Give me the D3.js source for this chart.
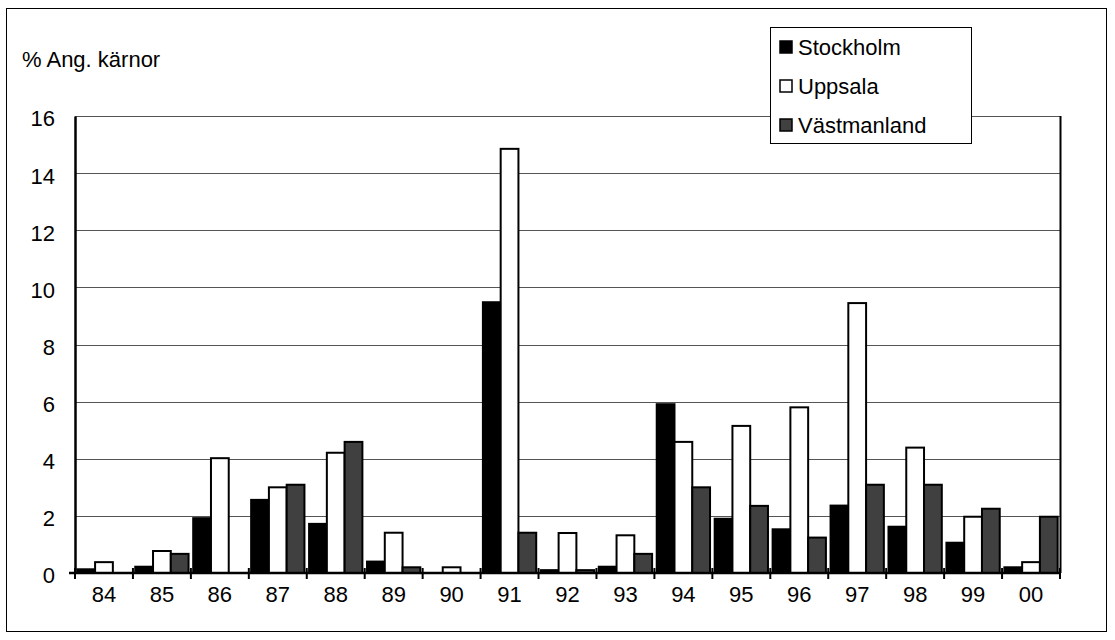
<!DOCTYPE html>
<html>
<head>
<meta charset="utf-8">
<script src="https://cdn.jsdelivr.net/npm/d3@7"></script>
<style>
  body { margin: 0; background: #fff; }
  text { font-family: "Liberation Sans", Arial, sans-serif; fill: #000; }
</style>
</head>
<body>
<div id="chart"></div>
<script>
(function () {
    'use strict';

    // years along the bottom
    var years = ['84', '85', '86', '87', '88', '89', '90', '91', '92', '93', '94', '95', '96', '97', '98', '99', '00'];

    var seriesNames = ['Stockholm', 'Uppsala', 'Västmanland'];
    var seriesColors = ['#000000', '#ffffff', '#404040'];

    var stockholm   = [0.13, 0.22, 1.92, 2.56, 1.72, 0.4, 0, 9.48, 0.1, 0.22, 5.91, 1.9, 1.53, 2.36, 1.62, 1.06, 0.2];
    var uppsala     = [0.38, 0.77, 4.02, 3.0, 4.21, 1.41, 0.2, 14.85, 1.4, 1.32, 4.59, 5.15, 5.8, 9.45, 4.39, 1.97, 0.38];
    var vastmanland = [0, 0.67, 0, 3.09, 4.59, 0.2, 0, 1.41, 0.1, 0.67, 3.0, 2.35, 1.24, 3.09, 3.09, 2.25, 1.97];

    var yTicks = [0, 2, 4, 6, 8, 10, 12, 14, 16];

    var w = 1115,
        h = 640;

    var left = 75, right = 1060, top = 116, bottom = 573;
    var fontSize = '22px';

    var svg = d3.select('#chart')
        .append('svg')
        .attr('width', w)
        .attr('height', h);

    // outer frame
    svg.append('rect')
        .attr('x', 6.5).attr('y', 8.5)
        .attr('width', 1100).attr('height', 623)
        .attr('fill', 'none')
        .attr('stroke', '#000')
        .attr('stroke-width', 1);

    var x0 = d3.scaleBand().domain(years).range([left, right]).paddingInner(0.08).paddingOuter(0.04);
    var x1 = d3.scaleBand().domain(seriesNames).range([0, x0.bandwidth()]);
    var y = d3.scaleLinear().domain([0, 16]).range([bottom, top]);
    var color = d3.scaleOrdinal().domain(seriesNames).range(seriesColors);

    var data = years.map(function (yr, i) {
        return {
            year: yr,
            values: [
                { name: 'Stockholm', value: stockholm[i] },
                { name: 'Uppsala', value: uppsala[i] },
                { name: 'Västmanland', value: vastmanland[i] }
            ]
        };
    });

    // gridlines
    svg.append('g')
        .attr('class', 'grid')
        .selectAll('line')
        .data(yTicks.filter(function (d) { return d > 0; }))
        .enter().append('line')
        .attr('x1', left).attr('x2', right)
        .attr('y1', function (d) { return Math.round(y(d)) + 0.5; })
        .attr('y2', function (d) { return Math.round(y(d)) + 0.5; })
        .attr('stroke', '#555')
        .attr('stroke-width', 1);

    // right border of the plot
    svg.append('line')
        .attr('x1', right + 0.5).attr('x2', right + 0.5)
        .attr('y1', top).attr('y2', bottom)
        .attr('stroke', '#000').attr('stroke-width', 2);

    // bars
    var group = svg.selectAll('.year')
        .data(data)
        .enter().append('g')
        .attr('class', 'year')
        .attr('transform', function (d) { return 'translate(' + x0(d.year) + ',0)'; });

    group.selectAll('rect')
        .data(function (d) { return d.values.filter(function (v) { return v.value > 0; }); })
        .enter().append('rect')
        .attr('x', function (d) { return x1(d.name); })
        .attr('y', function (d) { return y(d.value); })
        .attr('width', x1.bandwidth())
        .attr('height', function (d) { return bottom - y(d.value); })
        .attr('fill', function (d) { return color(d.name); })
        .attr('stroke', '#000')
        .attr('stroke-width', 2);

    // y axis
    var yAxis = svg.append('g')
        .attr('transform', 'translate(' + left + ',0)')
        .call(d3.axisLeft(y).tickValues(yTicks).tickSize(0).tickPadding(20));
    yAxis.select('.domain').attr('stroke-width', 2.5);
    yAxis.selectAll('text')
        .style('font-size', fontSize)
        .style('font-family', '"Liberation Sans", Arial, sans-serif')
        .attr('dy', '0.45em');

    // x axis with crossing ticks between categories
    var xAxis = svg.append('g')
        .attr('transform', 'translate(0,' + bottom + ')');
    xAxis.append('line')
        .attr('x1', left - 6).attr('x2', right + 1)
        .attr('stroke', '#000').attr('stroke-width', 2.5);
    xAxis.selectAll('.tk')
        .data(d3.range(years.length + 1))
        .enter().append('line')
        .attr('class', 'tk')
        .attr('x1', function (i) { return left + i * (right - left) / years.length; })
        .attr('x2', function (i) { return left + i * (right - left) / years.length; })
        .attr('y1', -5).attr('y2', 6)
        .attr('stroke', '#000').attr('stroke-width', 2);
    xAxis.selectAll('.lbl')
        .data(years)
        .enter().append('text')
        .attr('class', 'lbl')
        .attr('x', function (d, i) { return left + (i + 0.5) * (right - left) / years.length; })
        .attr('y', 21)
        .attr('dy', '0.35em')
        .attr('text-anchor', 'middle')
        .style('font-size', fontSize)
        .text(function (d) { return d; });

    // axis title
    svg.append('text')
        .attr('x', 22).attr('y', 67)
        .style('font-size', fontSize)
        .text('% Ang. kärnor');

    // legend
    var lg = svg.append('g').attr('transform', 'translate(770,27)');
    lg.append('rect')
        .attr('x', 0.5).attr('y', 0.5)
        .attr('width', 201).attr('height', 116)
        .attr('fill', '#fff')
        .attr('stroke', '#000').attr('stroke-width', 1);
    var item = lg.selectAll('.item')
        .data(seriesNames)
        .enter().append('g')
        .attr('class', 'item')
        .attr('transform', function (d, i) { return 'translate(0,' + (20 + i * 39) + ')'; });
    item.append('rect')
        .attr('x', 10).attr('y', -6)
        .attr('width', 12).attr('height', 12)
        .attr('fill', function (d) { return color(d); })
        .attr('stroke', '#000').attr('stroke-width', 1.5);
    item.append('text')
        .attr('x', 28).attr('dy', '0.35em')
        .style('font-size', fontSize)
        .text(function (d) { return d; });
})();
</script>
</body>
</html>
